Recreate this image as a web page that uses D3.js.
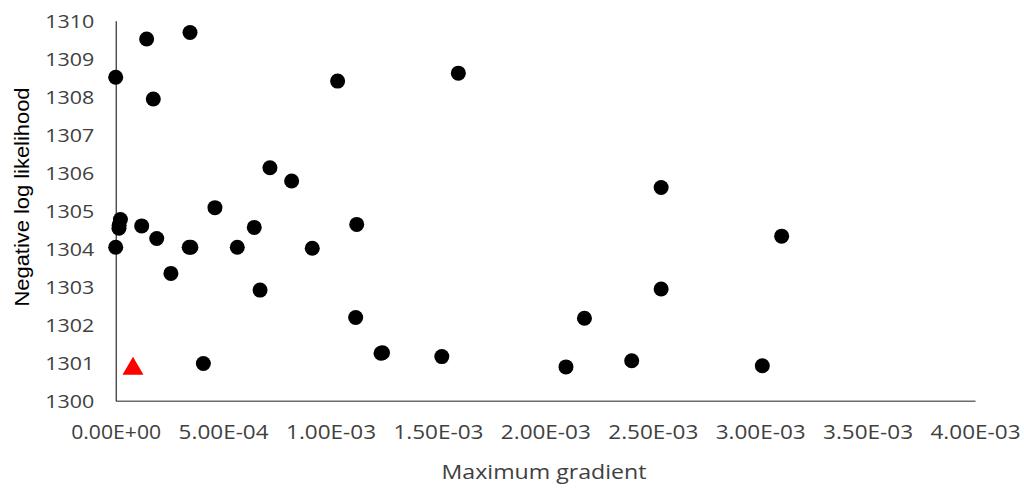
<!DOCTYPE html>
<html>
<head>
<meta charset="utf-8">
<script src="https://cdn.jsdelivr.net/npm/d3@7"></script>
<style>
  html, body { margin: 0; padding: 0; background: #fff; }
  svg { display: block; }
</style>
</head>
<body>
<svg id="chart" width="1024" height="488"></svg>
<script>
// Data
const gradient = [0, 1.44e-4, 3.46e-4, 1.75e-4, 1.033e-3, 1.595e-3, 7.18e-4, 8.19e-4, 6.45e-4, 1.122e-3,
  9.15e-4, 4.62e-4, 1.21e-4, 1.91e-4, 2.2e-5, 1.6e-5, 1.5e-5, 0, 3.42e-4, 3.50e-4,
  5.66e-4, 2.57e-4, 4.08e-4, 6.72e-4, 1.117e-3, 1.235e-3, 1.242e-3, 1.518e-3, 2.539e-3, 3.10e-3,
  2.539e-3, 2.182e-3, 2.096e-3, 2.402e-3, 3.01e-3];
const nll = [1308.51, 1309.52, 1309.69, 1307.94, 1308.41, 1308.62, 1306.13, 1305.78, 1304.56, 1304.64,
  1304.01, 1305.08, 1304.60, 1304.27, 1304.77, 1304.62, 1304.54, 1304.04, 1304.04, 1304.04,
  1304.04, 1303.35, 1300.98, 1302.91, 1302.19, 1301.25, 1301.26, 1301.16, 1305.61, 1304.33,
  1302.94, 1302.17, 1300.89, 1301.05, 1300.92];
const bestGradient = [8.05e-5];
const bestNll = [1300.84];
const xTicks = [0, 5e-4, 1e-3, 1.5e-3, 2e-3, 2.5e-3, 3e-3, 3.5e-3, 4e-3];
const yTicks = [1300, 1301, 1302, 1303, 1304, 1305, 1306, 1307, 1308, 1309, 1310];
const xTitle = "Maximum gradient";
const yTitle = "Negative log likelihood";

const svg = d3.select("#chart");
const x = d3.scaleLinear().domain([0, 0.004]).range([115.7, 975]);
const y = d3.scaleLinear().domain([1300, 1310]).range([400.7, 20.7]);

const fmtX = v => {
  if (v === 0) return "0.00E+00";
  const e = Math.floor(Math.log10(v) + 1e-9);
  const m = v / Math.pow(10, e);
  const es = (e < 0 ? "-" : "+") + String(Math.abs(e)).padStart(2, "0");
  return m.toFixed(2) + "E" + es;
};

// X axis
const gx = svg.append("g").attr("transform", `translate(0,${y(1300)})`)
  .call(d3.axisBottom(x).tickValues(xTicks).tickFormat(fmtX).tickSize(0).tickPadding(0));
gx.select(".domain").attr("stroke", "#6b6b6b").attr("stroke-width", 1.4);
gx.selectAll("text").attr("font-family", "Open Sans").attr("font-size", 20)
  .attr("fill", "#404040").attr("dy", 0).attr("y", 38.5)
  .attr("textLength", 90).attr("lengthAdjust", "spacingAndGlyphs");

// Y axis
const gy = svg.append("g").attr("transform", `translate(${x(0)},0)`)
  .call(d3.axisLeft(y).tickValues(yTicks).tickFormat(d3.format("d")).tickSize(0).tickPadding(0));
gy.select(".domain").attr("stroke", "#000").attr("stroke-width", 1);
gy.selectAll("text").attr("font-family", "Open Sans").attr("font-size", 19)
  .attr("fill", "#404040").attr("x", -21.5).attr("dy", "0.34em")
  .attr("textLength", 49).attr("lengthAdjust", "spacingAndGlyphs");

// Titles
svg.append("text").attr("x", 544).attr("y", 479).attr("text-anchor", "middle")
  .attr("font-family", "Open Sans").attr("font-size", 20).attr("fill", "#404040")
  .attr("textLength", 205).attr("lengthAdjust", "spacingAndGlyphs").text(xTitle);
svg.append("text").attr("transform", `translate(29,197) rotate(-90)`).attr("text-anchor", "middle")
  .attr("font-family", "Liberation Sans").attr("font-size", 21).attr("fill", "#000")
  .attr("textLength", 219).attr("lengthAdjust", "spacingAndGlyphs").text(yTitle);

// Points
svg.append("g").selectAll("circle").data(gradient.map((g, i) => [g, nll[i]])).join("circle")
  .attr("cx", d => x(d[0])).attr("cy", d => y(d[1])).attr("r", 7.5).attr("fill", "#000");

svg.append("g").selectAll("path").data(bestGradient.map((g, i) => [g, bestNll[i]])).join("path")
  .attr("transform", d => `translate(${x(d[0])},${y(d[1])})`)
  .attr("d", d3.symbol(d3.symbolTriangle, 190)).attr("fill", "#ff0000");
</script>
</body>
</html>
